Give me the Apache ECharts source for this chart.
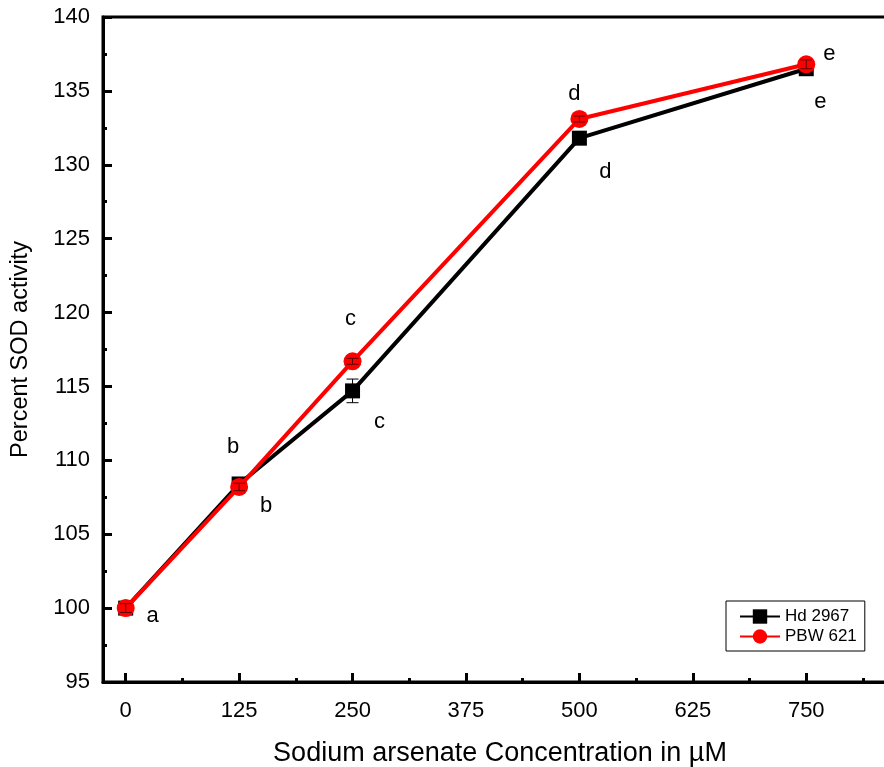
<!DOCTYPE html>
<html>
<head>
<meta charset="utf-8">
<script src="https://cdn.jsdelivr.net/npm/echarts@6/dist/echarts.min.js"></script>
<style>
  html, body { margin: 0; padding: 0; background: #fff; }
  #chart { width: 884px; height: 767px; }
</style>
</head>
<body>
<div id="chart"></div>
<script>
// Arsenate concentrations (µM)
const concentrations = [0, 125, 250, 500, 750];
// Percent SOD activity per cultivar
const hd2967 = [100, 108.4, 114.7, 131.8, 136.5];
const pbw621 = [100, 108.2, 116.7, 133.1, 136.8];
// Standard errors
const hd2967Err = [0.3, 0.3, 0.8, 0.2, 0.2];
const pbw621Err = [0.3, 0.25, 0.2, 0.2, 0.3];
// Significance letters
const hd2967Letters = ['a', 'b', 'c', 'd', 'e'];
const pbw621Letters = ['', 'b', 'c', 'd', 'e'];
// Tick positions
const majorTicksX = [0, 125, 250, 375, 500, 625, 750];
const minorTicksX = [62.5, 187.5, 312.5, 437.5, 562.5, 687.5, 812.5];

// Letter placement relative to each point (px)
const hdLetterOffsets = [[27, 8], [27, 22], [27, 31], [26, 34], [14, 33]];
const pbwLetterOffsets = [[0, 0], [-6, -40], [-2, -42], [-5, -25], [23, -10]];

const FONT = 'Liberation Sans, Arial, sans-serif';

function labelled(vals, letters, offsets) {
  return concentrations.map((c, i) => ({
    value: [c, vals[i]],
    label: {
      show: letters[i] !== '',
      formatter: letters[i],
      offset: offsets[i]
    }
  }));
}

function errorData(vals, errs) {
  return concentrations.map((c, i) => [c, vals[i], errs[i]]);
}

function errorRenderer(color) {
  return function (params, api) {
    const x = api.value(0), y = api.value(1), e = api.value(2);
    const top = api.coord([x, y + e]);
    const bot = api.coord([x, y - e]);
    const hw = 6;
    const style = { stroke: color, lineWidth: 1 };
    return {
      type: 'group',
      children: [
        { type: 'line', shape: { x1: top[0], y1: top[1], x2: bot[0], y2: bot[1] }, style },
        { type: 'line', shape: { x1: top[0] - hw, y1: top[1], x2: top[0] + hw, y2: top[1] }, style },
        { type: 'line', shape: { x1: bot[0] - hw, y1: bot[1], x2: bot[0] + hw, y2: bot[1] }, style }
      ]
    };
  };
}

const chart = echarts.init(document.getElementById('chart'), null, { renderer: 'canvas' });

const option = {
  backgroundColor: '#fff',
  animation: false,
  textStyle: { fontFamily: FONT, color: '#000' },
  grid: {
    left: 103, top: 17, bottom: 85, right: -13,
    outerBoundsMode: 'none',
    containLabel: false,
    show: true, borderColor: '#000', borderWidth: 3, backgroundColor: 'transparent'
  },
  legend: {
    left: 726, top: 601,
    orient: 'vertical',
    borderColor: '#000', borderWidth: 1, borderRadius: 0,
    padding: [7, 8, 6, 13],
    itemGap: 3,
    itemWidth: 40, itemHeight: 18,
    data: ['Hd 2967', 'PBW 621'],
    textStyle: { fontFamily: FONT, fontSize: 17, color: '#000' }
  },
  xAxis: [
    {
      type: 'value', min: -25, max: 850,
      name: 'Sodium arsenate Concentration in µM',
      nameLocation: 'middle', nameGap: 58,
      nameTextStyle: { fontFamily: FONT, fontSize: 27, color: '#000' },
      axisLine: { show: true, onZero: false, lineStyle: { color: '#000', width: 3 } },
      axisTick: { show: true, inside: true, length: 9, lineStyle: { width: 3, color: '#000' }, customValues: majorTicksX },
      axisLabel: { show: true, fontSize: 22, color: '#000', margin: 18, customValues: majorTicksX, fontFamily: FONT },
      splitLine: { show: false }
    },
    {
      type: 'value', min: -25, max: 850, position: 'bottom',
      axisLine: { show: false, onZero: false },
      axisTick: { show: true, inside: true, length: 4, lineStyle: { width: 3, color: '#000' }, customValues: minorTicksX },
      axisLabel: { show: false },
      splitLine: { show: false }
    }
  ],
  yAxis: {
    type: 'value', min: 95, max: 140, interval: 5,
    name: 'Percent SOD activity',
    nameLocation: 'middle', nameGap: 70, nameRotate: 90,
    nameTextStyle: { fontFamily: FONT, fontSize: 23.5, color: '#000' },
    axisLine: { show: true, onZero: false, lineStyle: { color: '#000', width: 3 } },
    axisTick: { show: true, inside: true, length: 9, lineStyle: { width: 3, color: '#000' } },
    minorTick: { show: true, splitNumber: 2, length: 4, lineStyle: { width: 3, color: '#000' } },
    axisLabel: { fontSize: 22, color: '#000', margin: 13, fontFamily: FONT },
    splitLine: { show: false },
    minorSplitLine: { show: false }
  },
  series: [
    {
      name: 'Hd 2967', type: 'line',
      data: labelled(hd2967, hd2967Letters, hdLetterOffsets),
      symbol: 'rect', symbolSize: 15,
      lineStyle: { color: '#000', width: 4 },
      itemStyle: { color: '#000' },
      label: { show: true, position: 'inside', fontSize: 22, color: '#000', fontFamily: FONT },
      z: 2
    },
    {
      name: 'Hd 2967 err', type: 'custom',
      data: errorData(hd2967, hd2967Err),
      renderItem: errorRenderer('#000'),
      z: 3, silent: true
    },
    {
      name: 'PBW 621', type: 'line',
      data: labelled(pbw621, pbw621Letters, pbwLetterOffsets),
      symbol: 'circle', symbolSize: 18,
      lineStyle: { color: '#ff0000', width: 4 },
      itemStyle: { color: '#ff0000' },
      label: { show: true, position: 'inside', fontSize: 22, color: '#000', fontFamily: FONT },
      z: 4
    },
    {
      name: 'PBW 621 err', type: 'custom',
      data: errorData(pbw621, pbw621Err),
      renderItem: errorRenderer('#5a0000'),
      z: 5, silent: true
    }
  ]
};

chart.setOption(option);
</script>
</body>
</html>
